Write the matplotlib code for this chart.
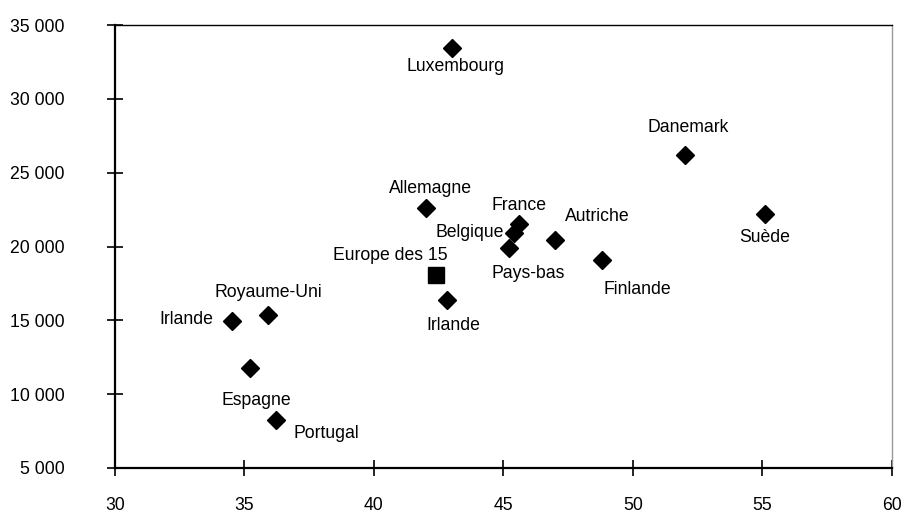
import matplotlib
matplotlib.use("Agg")
import matplotlib.pyplot as plt
from matplotlib.ticker import FuncFormatter

plt.rcParams['font.family'] = ['Liberation Sans', 'DejaVu Sans']

# pays de l'UE (losanges) et moyenne Europe des 15 (carré)
pays = ["Luxembourg", "Danemark", "Suède", "Allemagne", "France", "Belgique",
        "Pays-bas", "Autriche", "Finlande", "Irlande", "Irlande",
        "Royaume-Uni", "Espagne", "Portugal"]
x_vals = [43.0, 52.0, 55.1, 42.0, 45.6, 45.4, 45.2, 47.0, 48.8, 42.8, 34.5,
          35.9, 35.2, 36.2]
y_vals = [33450, 26200, 22200, 22600, 21550, 20900, 19900, 20450, 19100,
          16350, 14950, 15350, 11750, 8250]
# décalage des étiquettes (pixels)
label_dx = [4, 3, 0, 5, 0, -44, 20, 42, 35, 7, -45, 1, 7, 51]
label_dy = [-19, 27, -23, 20, 18, 1, -26, 23, -30, -25, 2, 23, -32, -13]

moy_label = "Europe des 15"
moy_x = [42.4]
moy_y = [18050]

x_ticks = [30, 35, 40, 45, 50, 55, 60]
y_ticks = [5000, 10000, 15000, 20000, 25000, 30000, 35000]

FS = 12.7

fig = plt.figure(figsize=(9.03, 5.14), dpi=100)
ax = fig.add_axes([115 / 903, 1 - 468 / 514, 777 / 903, 443 / 514])

ax.plot(x_vals, y_vals, ls="none", marker="D", ms=9.5, color="black", clip_on=False)
ax.plot(moy_x, moy_y, ls="none", marker="s", ms=11.5, color="black")

for name, x, y, dx, dy in zip(pays, x_vals, y_vals, label_dx, label_dy):
    ax.annotate(name, (x, y), xytext=(dx, dy), textcoords="offset pixels",
                ha="center", va="center", fontsize=FS)
ax.annotate(moy_label, (moy_x[0], moy_y[0]), xytext=(-46, 20),
            textcoords="offset pixels", ha="center", va="center", fontsize=FS)

ax.set_xlim(30, 60)
ax.set_ylim(5000, 35000)
ax.set_xticks(x_ticks)
ax.set_yticks(y_ticks)
ax.yaxis.set_major_formatter(FuncFormatter(lambda v, p: f"{int(v):,}".replace(",", " ")))

ax.spines["left"].set_linewidth(1.6)
ax.spines["bottom"].set_linewidth(1.6)
ax.spines["top"].set_linewidth(1.0)
ax.spines["right"].set_linewidth(1.0)
ax.spines["right"].set_color("#999999")

ax.tick_params(axis="both", direction="inout", length=12, width=1.2, labelsize=FS)
ax.tick_params(axis="y", pad=30)
ax.tick_params(axis="x", pad=15)

fig.savefig("out.png", dpi=100)
